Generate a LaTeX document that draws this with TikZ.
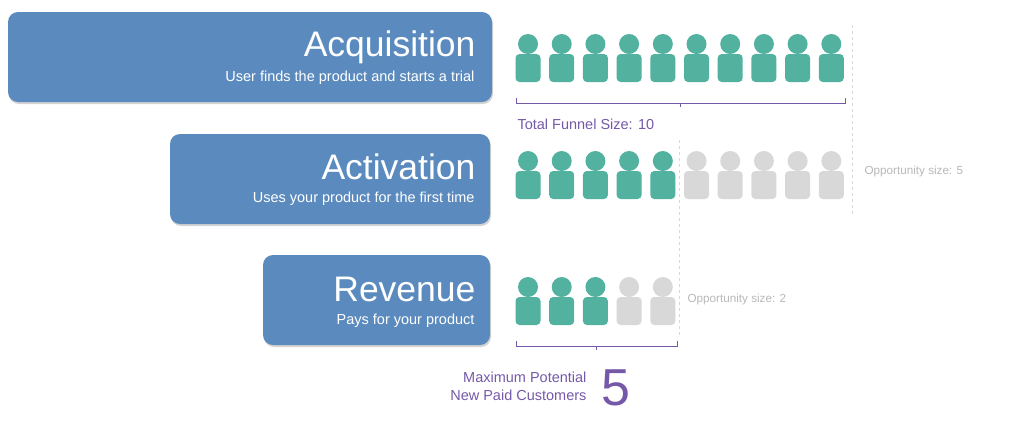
\documentclass[tikz,border=0pt]{standalone}
\usepackage{fontspec}
\setmainfont{Liberation Sans}
\usetikzlibrary{shadows}
\definecolor{boxblue}{HTML}{5B8BBE}
\definecolor{teal}{HTML}{52B19F}
\definecolor{pale}{HTML}{D8D8D8}
\definecolor{funnel}{HTML}{7559A8}
\tikzset{
  stage/.style={fill=boxblue, rounded corners=10pt, drop shadow={opacity=0.35, shadow xshift=1pt, shadow yshift=-2pt}},
  guide/.style={draw=pale, dashed, line width=0.8pt},
  bracket/.style={draw=funnel, line width=0.8pt},
  oppo/.style={text=pale!85!black, font=\fontsize{11.7}{13}\selectfont},
}
% person icon: centre x, top y, colour
\newcommand{\person}[3]{
  \fill[#3] (#1,#2+10) circle (10);
  \fill[#3, rounded corners=4pt] (#1-12.5,#2+48) -- (#1-12.5,#2+20) -- (#1+12.5,#2+20) -- (#1+12.5,#2+48) -- cycle;
}
\begin{document}
\begin{tikzpicture}[x=1pt, y=-1pt]
        \useasboundingbox (0,0) rectangle (1024,440);
        
        % stage boxes
        \path[stage] (8,12) rectangle (492,102);
        \path[stage] (170,134) rectangle (490,224);
        \path[stage] (263,255) rectangle (490,345);
        
        \node[anchor=east, text=white, font=\fontsize{35.5}{38}\selectfont] (acq) at (479,47) {Acquisition};
        \node[anchor=east, text=white, font=\fontsize{14.5}{17}\selectfont] (acqsub) at (478,78) {User finds the product and starts a trial};
        \node[anchor=east, text=white, font=\fontsize{35.5}{38}\selectfont] (act) at (479,167) {Activation};
        \node[anchor=east, text=white, font=\fontsize{14.5}{17}\selectfont] (actsub) at (478,199) {Uses your product for the first time};
        \node[anchor=east, text=white, font=\fontsize{35.5}{38}\selectfont] (rev) at (479,289) {Revenue};
        \node[anchor=east, text=white, font=\fontsize{14.5}{17}\selectfont] (revsub) at (478,321) {Pays for your product};
        
        % guides
        \draw[guide] (852,25) -- (852,215);
        \draw[guide] (679,140) -- (679,335);
        
        % people
        \foreach \i in {0,...,9} {
          \person{528+33.7*\i}{34}{teal}
        }
        \foreach \i in {0,...,9} {
          \ifnum\i<5 \person{528+33.7*\i}{151}{teal} \else \person{528+33.7*\i}{151}{pale} \fi
        }
        \foreach \i in {0,...,4} {
          \ifnum\i<3 \person{528+33.7*\i}{277}{teal} \else \person{528+33.7*\i}{277}{pale} \fi
        }
        
        % brackets
        \draw[bracket] (516,98) -- (516,103) -- (845,103) -- (845,98);
        \draw[bracket] (680,103) -- (680,107);
        \draw[bracket] (516,341) -- (516,346) -- (677,346) -- (677,341);
        \draw[bracket] (596,346) -- (596,350);
        
        \node[anchor=west, text=funnel, font=\fontsize{14.5}{17}\selectfont] (total) at (514,124) {Total Funnel Size: 10};
        \node[anchor=east, align=right, text=funnel, font=\fontsize{14.5}{18}\selectfont] (maxpot) at (590,386) {Maximum Potential\\New Paid Customers};
        \node[anchor=west, text=funnel, font=\fontsize{52}{52}\selectfont] (five) at (598,388) {5};
        
        \node[oppo, anchor=west] (opp5) at (861,171) {Opportunity size: 5};
        \node[oppo, anchor=west] (opp2) at (684,299) {Opportunity size: 2};
    \end{tikzpicture}
\end{document}
